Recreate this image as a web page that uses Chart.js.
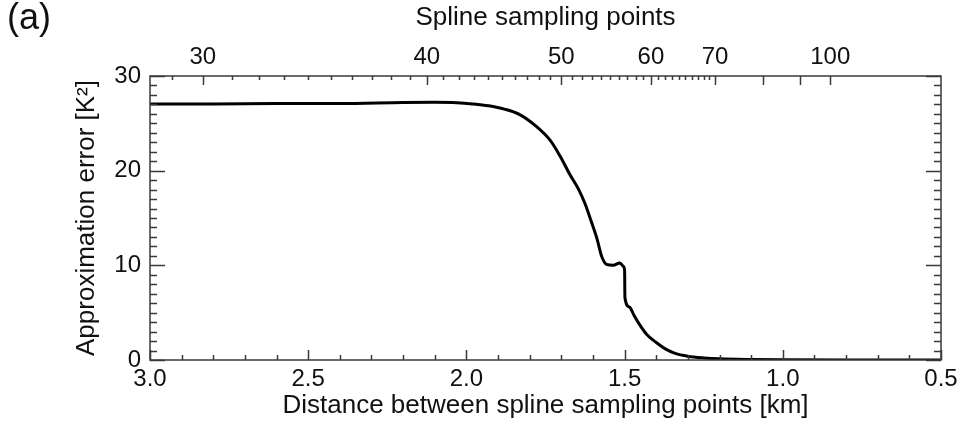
<!DOCTYPE html>
<html>
<head>
<meta charset="utf-8">
<script src="https://cdn.jsdelivr.net/npm/chart.js@4/dist/chart.umd.min.js"></script>
<style>
  html, body { margin: 0; padding: 0; background: #fff; }
  #wrap { width: 963px; height: 433px; position: relative; }
</style>
</head>
<body>
<div id="wrap"><canvas id="chart"></canvas></div>
<script>
// distance between spline sampling points [km] and approximation error [K^2]
var distance = [3.00, 2.80, 2.60, 2.40, 2.20, 2.10, 2.03, 1.98, 1.93, 1.88, 1.83, 1.78, 1.735, 1.705, 1.673,
                1.645, 1.625, 1.605, 1.588, 1.572, 1.557, 1.536, 1.515, 1.504, 1.500, 1.499, 1.485, 1.47, 1.45,
                1.43, 1.40, 1.37, 1.34, 1.30, 1.25, 1.20, 1.10, 1.00, 0.80, 0.50];
var error = [27.05, 27.05, 27.1, 27.1, 27.2, 27.22, 27.18, 27.05, 26.85, 26.5, 25.9, 24.7, 23.2, 21.6, 19.6,
             18.0, 16.5, 14.6, 12.9, 10.9, 10.1, 10.0, 10.25, 9.9, 9.5, 6.6, 5.6, 4.7, 3.6,
             2.7, 1.85, 1.15, 0.7, 0.4, 0.22, 0.12, 0.05, 0.02, 0.0, 0.0];

// top axis: number of spline sampling points = trackLength / distance
var trackLength = 85;
var topMajor = [30, 40, 50, 60, 70, 80, 90, 100];
var topLabels = [30, 40, 50, 60, 70, 100];
var bottomTicks = [3.0, 2.5, 2.0, 1.5, 1.0, 0.5];
var yTicks = [0, 10, 20, 30];

var FONT = 'Liberation Sans, Arial, Helvetica, sans-serif';
var AXIS = '#3a3a3a';

var points = distance.map((d, i) => ({ x: d, y: error[i] }));

// frame + inward ticks, IDL style
var frameTicks = {
  id: 'frameTicks',
  afterDraw(chart) {
    const ctx = chart.ctx;
    const a = chart.chartArea;
    const xb = chart.scales.x, xt = chart.scales.xTop, y = chart.scales.y;
    ctx.save();
    ctx.strokeStyle = AXIS;
    ctx.lineWidth = 1.5;
    ctx.strokeRect(a.left, a.top, a.right - a.left, a.bottom - a.top);
    ctx.beginPath();
    // y ticks, left and right
    for (let v = 0; v <= 30; v++) {
      const py = Math.round(y.getPixelForValue(v)) + 0.5;
      const len = v % 10 === 0 ? 15 : 7;
      ctx.moveTo(a.left, py); ctx.lineTo(a.left + len, py);
      ctx.moveTo(a.right, py); ctx.lineTo(a.right - len, py);
    }
    // bottom ticks every 0.1 km
    for (let k = 5; k <= 30; k++) {
      const px = Math.round(xb.getPixelForValue(k / 10)) + 0.5;
      const len = k % 5 === 0 ? 10 : 5;
      ctx.moveTo(px, a.bottom); ctx.lineTo(px, a.bottom - len);
    }
    // top ticks: sampling points
    for (let n = 29; n <= 70; n++) {
      const px = Math.round(xt.getPixelForValue(trackLength / n)) + 0.5;
      const len = topMajor.includes(n) ? 9 : 4;
      ctx.moveTo(px, a.top); ctx.lineTo(px, a.top + len);
    }
    topMajor.forEach(n => {
      const px = Math.round(xt.getPixelForValue(trackLength / n)) + 0.5;
      ctx.moveTo(px, a.top); ctx.lineTo(px, a.top + 9);
    });
    ctx.stroke();
    // panel label
    ctx.fillStyle = '#111';
    ctx.font = '36px ' + FONT;
    ctx.textBaseline = 'top';
    ctx.textAlign = 'left';
    ctx.fillText('(a)', 7, 1);
    ctx.restore();
  }
};

var chart = new Chart(document.getElementById('chart'), {
  type: 'scatter',
  data: {
    datasets: [{
      data: points,
      showLine: true,
      borderColor: '#000',
      borderWidth: 3,
      pointRadius: 0,
      cubicInterpolationMode: 'monotone'
    }]
  },
  options: {
    responsive: true,
    maintainAspectRatio: false,
    animation: false,
    layout: { padding: { left: 0, right: 22, top: 0, bottom: 0 } },
    plugins: { legend: { display: false }, tooltip: { enabled: false } },
    scales: {
      x: {
        type: 'linear',
        position: 'bottom',
        reverse: true,
        min: 0.5,
        max: 3.0,
        grid: { display: false, drawTicks: false },
        border: { display: false },
        afterBuildTicks: (s) => { s.ticks = bottomTicks.map(v => ({ value: v })); },
        afterFit: (s) => { s.height = 73; },
        ticks: {
          autoSkip: false, maxRotation: 0, padding: 5, color: '#111',
          font: { family: FONT, size: 24 },
          callback: (v) => Number(v).toFixed(1)
        },
        title: {
          display: true, text: 'Distance between spline sampling points [km]', color: '#111',
          font: { family: FONT, size: 26 }, padding: { top: 0, bottom: 12 }
        }
      },
      xTop: {
        type: 'linear',
        position: 'top',
        reverse: true,
        min: 0.5,
        max: 3.0,
        grid: { display: false, drawTicks: false },
        border: { display: false },
        afterBuildTicks: (s) => { s.ticks = topLabels.map(n => ({ value: trackLength / n })); },
        afterFit: (s) => { s.height = 76; },
        ticks: {
          autoSkip: false, maxRotation: 0, padding: 4, color: '#111',
          font: { family: FONT, size: 24 },
          callback: (v) => String(Math.round(trackLength / v))
        },
        title: {
          display: true, text: 'Spline sampling points', color: '#111',
          font: { family: FONT, size: 26 }, padding: { top: 2, bottom: 0 }
        }
      },
      y: {
        min: 0,
        max: 30,
        grid: { display: false, drawTicks: false },
        border: { display: false },
        afterBuildTicks: (s) => { s.ticks = yTicks.map(v => ({ value: v })); },
        afterFit: (s) => { s.width = 150; },
        ticks: { padding: 9, color: '#111', font: { family: FONT, size: 24 } },
        title: {
          display: true, text: 'Approximation error [K²]', color: '#111',
          font: { family: FONT, size: 26 }, padding: { top: 71, bottom: 0 }
        }
      }
    }
  },
  plugins: [frameTicks]
});
</script>
</body>
</html>
